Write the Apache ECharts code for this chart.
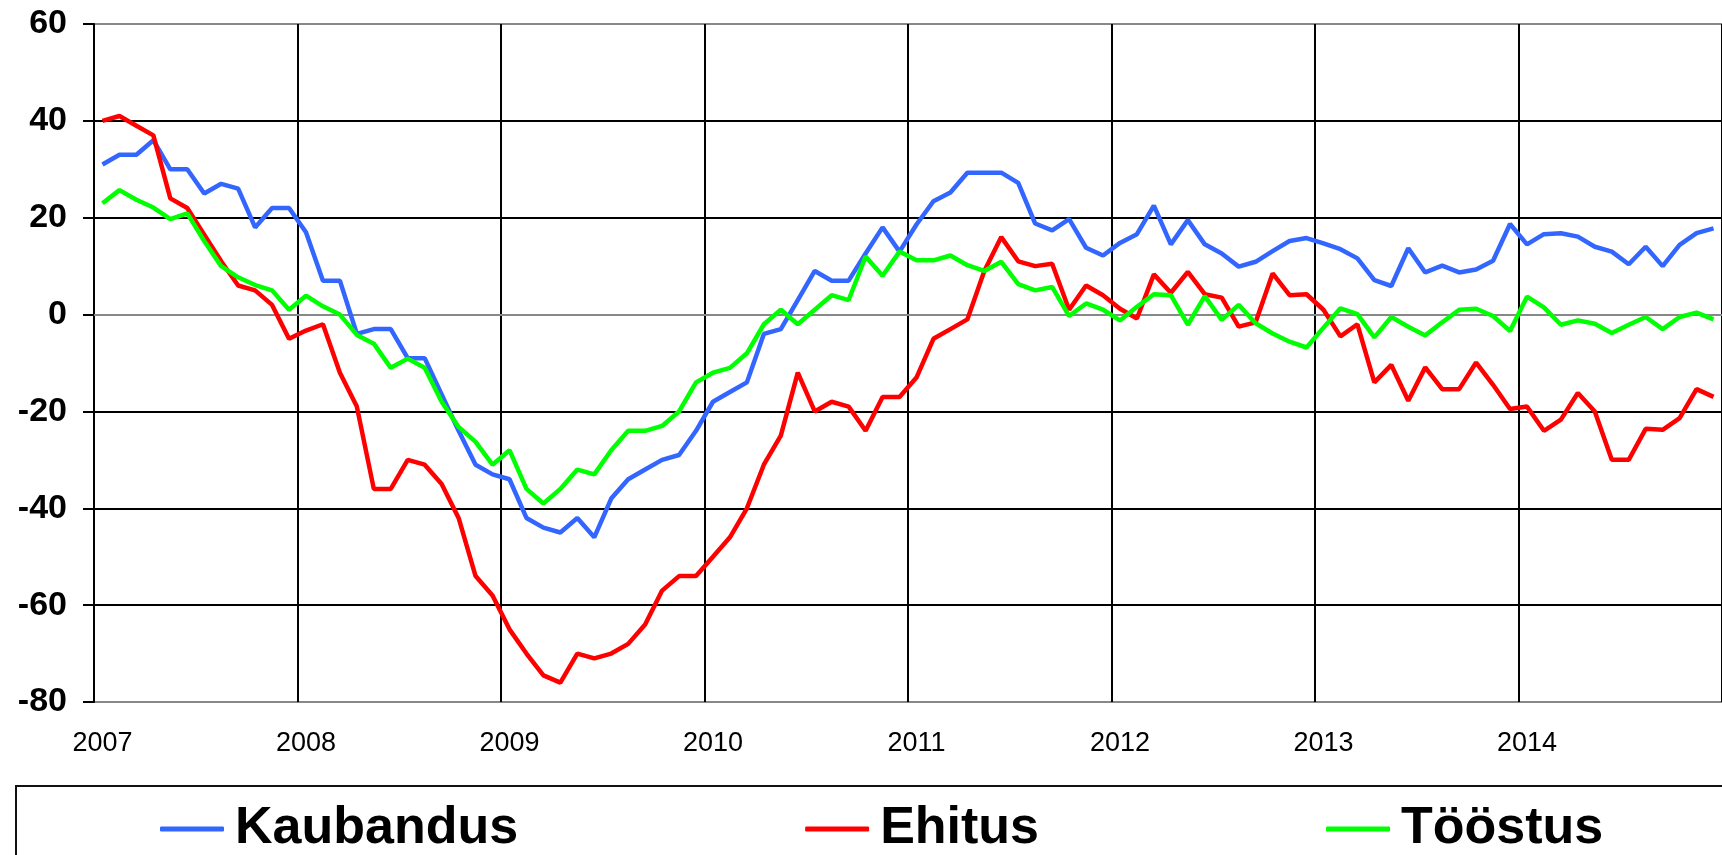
<!DOCTYPE html>
<html>
<head>
<meta charset="utf-8">
<title>Kaubandus, Ehitus, Tööstus</title>
<script src="https://cdn.jsdelivr.net/npm/echarts@6/dist/echarts.min.js"></script>
<style>
  html, body { margin: 0; padding: 0; background: #fff; }
  #chart { width: 1722px; height: 855px; }
</style>
</head>
<body>
<div id="chart"></div>
<script>
// aastad x-teljel (iga aasta 12 kuud)
const years = ['2007', '2008', '2009', '2010', '2011', '2012', '2013', '2014'];
const months = ['01', '02', '03', '04', '05', '06', '07', '08', '09', '10', '11', '12'];

// y-telje skaala
const yTicks = { min: -80, max: 60, step: 20 };

// kuised väärtused 2007-01 ... 2014-12
const kaubandus = [
  31, 33, 33, 36, 30, 30, 25, 27, 26, 18, 22, 22,
  17, 7, 7, -4, -3, -3, -9, -9, -16.5, -24, -31, -33,
  -34, -42, -44, -45, -42, -46, -38, -34, -32, -30, -29, -24,
  -18, -16, -14, -4, -3, 3, 9, 7, 7, 12.6, 18, 13,
  18.6, 23.4, 25.2, 29.3, 29.3, 29.3, 27.2, 18.8, 17.4, 19.7, 13.8, 12.2,
  14.8, 16.6, 22.5, 14.5, 19.5, 14.5, 12.6, 9.9, 10.9, 13.1, 15.2, 15.8,
  14.7, 13.5, 11.6, 7.1, 5.9, 13.7, 8.7, 10.1, 8.7, 9.3, 11.1, 18.7,
  14.5, 16.6, 16.8, 16.1, 14, 13, 10.4, 14, 10, 14.4, 16.8, 17.8
];
const ehitus = [
  40, 41, 39, 37, 24, 22, 16.5, 11, 6, 5, 2, -5,
  -3.3, -2, -12, -19, -36, -36, -30, -31, -35, -42, -54, -58,
  -65, -70, -74.5, -76, -70, -71, -70, -68, -64, -57, -54, -54,
  -50, -46, -40, -31, -25, -12, -20, -18, -19, -24, -17, -17,
  -13, -5, -3, -1, 9, 16, 11, 10, 10.5, 1, 6, 4,
  1.2, -0.8, 8.3, 4.5, 8.8, 4.2, 3.5, -2.5, -1.6, 8.5, 4, 4.2,
  1, -4.5, -2, -14, -10.4, -17.8, -10.9, -15.4, -15.4, -9.9, -14.5, -19.5,
  -19, -24, -21.7, -16.2, -20, -30, -30, -23.6, -23.8, -21.4, -15.4, -17
];
const toostus = [
  23, 25.7, 23.7, 22.1, 19.7, 20.9, 15.2, 10, 7.7, 6.1, 5, 1,
  3.9, 1.7, 0, -4.2, -6, -11, -9.1, -11, -18, -23.2, -26.3, -31,
  -28, -36, -39, -36, -32, -33, -28, -24, -24, -23, -20, -14,
  -12, -11, -8, -2, 1, -2, 1, 4, 3, 12, 8, 13,
  11.2, 11.2, 12.2, 10.2, 9, 10.9, 6.3, 5, 5.7, -0.3, 2.3, 1,
  -1.2, 1.6, 4.2, 4, -2.1, 3.8, -1.1, 2, -1.8, -3.9, -5.6, -6.8,
  -2.7, 1.3, 0.1, -4.7, -0.5, -2.5, -4.3, -1.6, 1, 1.2, -0.3, -3.4,
  3.7, 1.5, -2.1, -1.2, -1.9, -3.8, -2.1, -0.5, -3, -0.5, 0.4, -1
];

const seriesNames = ['Kaubandus', 'Ehitus', 'Tööstus'];
const seriesColors = ['#3366ff', '#ff0000', '#00ff00'];

// kategooriad: "2007-01" jne
const categories = [];
years.forEach(y => months.forEach(m => categories.push(y + '-' + m)));

const chart = echarts.init(document.getElementById('chart'), null, { renderer: 'canvas' });

const option = {
  animation: false,
  backgroundColor: '#fff',
  textStyle: { fontFamily: '"Liberation Sans", Arial, sans-serif' },
  grid: {
    left: 94,
    top: 24,
    width: 1642, // graafik on paremalt ära lõigatud
    height: 678
  },
  legend: {
    data: seriesNames,
    left: 155,
    top: 798,
    icon: 'roundRect',
    itemWidth: 64,
    itemHeight: 5,
    itemGap: 287,
    textStyle: {
      fontSize: 52,
      fontWeight: 'bold',
      color: '#000',
      padding: [0, 0, 0, 6]
    }
  },
  graphic: [
    { // legendi raam
      type: 'rect',
      z: -1,
      shape: { x: 16, y: 786, width: 1800, height: 200 },
      style: { fill: 'none', stroke: '#111', lineWidth: 2 }
    }
  ],
  xAxis: {
    type: 'category',
    data: categories,
    boundaryGap: true,
    axisLine: { lineStyle: { color: '#888', width: 2 } },
    axisTick: { show: false, interval: 11 },
    axisLabel: {
      interval: 11,
      margin: 28,
      fontSize: 27,
      color: '#000',
      formatter: v => v.slice(0, 4)
    },
    splitLine: {
      show: true,
      interval: 11,
      lineStyle: { color: '#000', width: 2 }
    }
  },
  yAxis: {
    type: 'value',
    min: yTicks.min,
    max: yTicks.max,
    interval: yTicks.step,
    axisLine: { show: true, lineStyle: { color: '#000', width: 2 } },
    axisTick: { show: true, inside: false, length: 11, lineStyle: { color: '#000', width: 2 } },
    axisLabel: {
      margin: 27,
      fontSize: 34,
      fontWeight: 'bold',
      color: '#000'
    },
    splitLine: {
      lineStyle: {
        color: ['#888', '#000', '#000', '#000', '#000', '#000', '#000', '#888'],
        width: 2
      }
    }
  },
  series: [kaubandus, ehitus, toostus].map((d, i) => ({
    name: seriesNames[i],
    type: 'line',
    data: d,
    symbol: 'none',
    color: seriesColors[i],
    lineStyle: { width: 4.5, color: seriesColors[i] }
  }))
};

chart.setOption(option);
</script>
</body>
</html>
